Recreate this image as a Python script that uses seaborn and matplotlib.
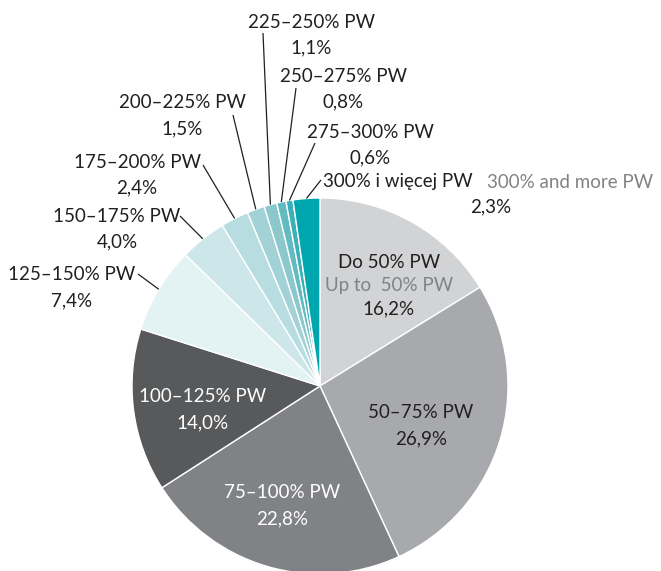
import numpy as np
import matplotlib
matplotlib.use("Agg")
import matplotlib.pyplot as plt
import seaborn as sns

# === Data ===
labels_pl = ["Do 50% PW", "50–75% PW", "75–100% PW", "100–125% PW",
             "125–150% PW", "150–175% PW", "175–200% PW", "200–225% PW",
             "225–250% PW", "250–275% PW", "275–300% PW", "300% i więcej PW"]
shares = [16.2, 26.9, 22.8, 14.0, 7.4, 4.0, 2.4, 1.5, 1.1, 0.8, 0.6, 2.3]
label_en_first = "Up to  50% PW"
label_en_last = "300% and more PW"

colors = ["#d1d3d4", "#a7a9ac", "#808285", "#58595b",
          "#e3f2f3", "#cde6e9", "#b8dde0", "#a2d2d6",
          "#8ac8cc", "#62bbc1", "#3ab0b7", "#00a6ae"]

DARK = "#231f20"
GREY = "#808285"

# figure in pixel units (y measured from top)
W, H = 661, 571
CENTER = (320, 386)
RADIUS = 188


def py(y):
    return H - y


def pct(v):
    return f"{v:.1f}%".replace(".", ",")


sns.set_theme(style="white")
plt.rcParams["font.family"] = ["Lato", "DejaVu Sans"]
FS = 13.5

fig = plt.figure(figsize=(W / 100, H / 100), dpi=100)
ax = fig.add_axes([0, 0, 1, 1])

wedges, _ = ax.pie(
    shares,
    colors=colors,
    startangle=90,
    counterclock=False,
    center=(CENTER[0], py(CENTER[1])),
    radius=RADIUS,
    wedgeprops=dict(edgecolor="white", linewidth=1.0),
)
ax.set_xlim(0, W)
ax.set_ylim(0, H)
ax.set_aspect("equal")
ax.axis("off")

# --- labels inside the pie ---
ax.text(389, py(262), labels_pl[0], ha="center", va="center", fontsize=FS, color=DARK)
ax.text(389, py(286), label_en_first, ha="center", va="center", fontsize=FS, color=GREY)
ax.text(389, py(309), pct(shares[0]), ha="center", va="center", fontsize=FS, color=DARK)

inside = {1: (421, 413, DARK), 2: (282, 493, "white"), 3: (203, 397, "white")}
for i, (x, y, c) in inside.items():
    ax.text(x, py(y), labels_pl[i], ha="center", va="center", fontsize=FS, color=c)
    ax.text(x, py(y + 26), pct(shares[i]), ha="center", va="center", fontsize=FS, color=c)

# --- outside labels with leader lines ---
# index: (label centre x, label y, line start x, line start y)
outside = {
    4: (72, 275, 138, 274),
    5: (117, 216, 180, 216),
    6: (137, 162, 203, 165),
    7: (182, 103, 233, 115),
    8: (311, 22, 263, 33),
    9: (343, 76, 296, 88),
    10: (370, 132, 315, 143),
}
for i, (tx, ty, lx, ly) in outside.items():
    ax.text(tx, py(ty), labels_pl[i], ha="center", va="center", fontsize=FS, color=DARK)
    ax.text(tx, py(ty + 26), pct(shares[i]), ha="center", va="center", fontsize=FS, color=DARK)
    w = wedges[i]
    ang = np.deg2rad((w.theta1 + w.theta2) / 2)
    ex = CENTER[0] + RADIUS * np.cos(ang)
    ey = py(CENTER[1]) + RADIUS * np.sin(ang)
    ax.plot([lx, ex], [py(ly), ey], color=DARK, lw=0.9, solid_capstyle="butt")

# last slice: bilingual label
ax.text(323, py(182), labels_pl[11], ha="left", va="center", fontsize=FS, color=DARK)
ax.text(487, py(182), label_en_last, ha="left", va="center", fontsize=FS, color=GREY)
ax.text(491, py(207), pct(shares[11]), ha="center", va="center", fontsize=FS, color=DARK)
w = wedges[11]
ang = np.deg2rad((w.theta1 + w.theta2) / 2)
ax.plot([321, CENTER[0] + RADIUS * np.cos(ang)],
        [py(180), py(CENTER[1]) + RADIUS * np.sin(ang)],
        color=DARK, lw=0.9, solid_capstyle="butt")

fig.savefig("out.png", dpi=100, facecolor="white")
print("Saved: out.png")
